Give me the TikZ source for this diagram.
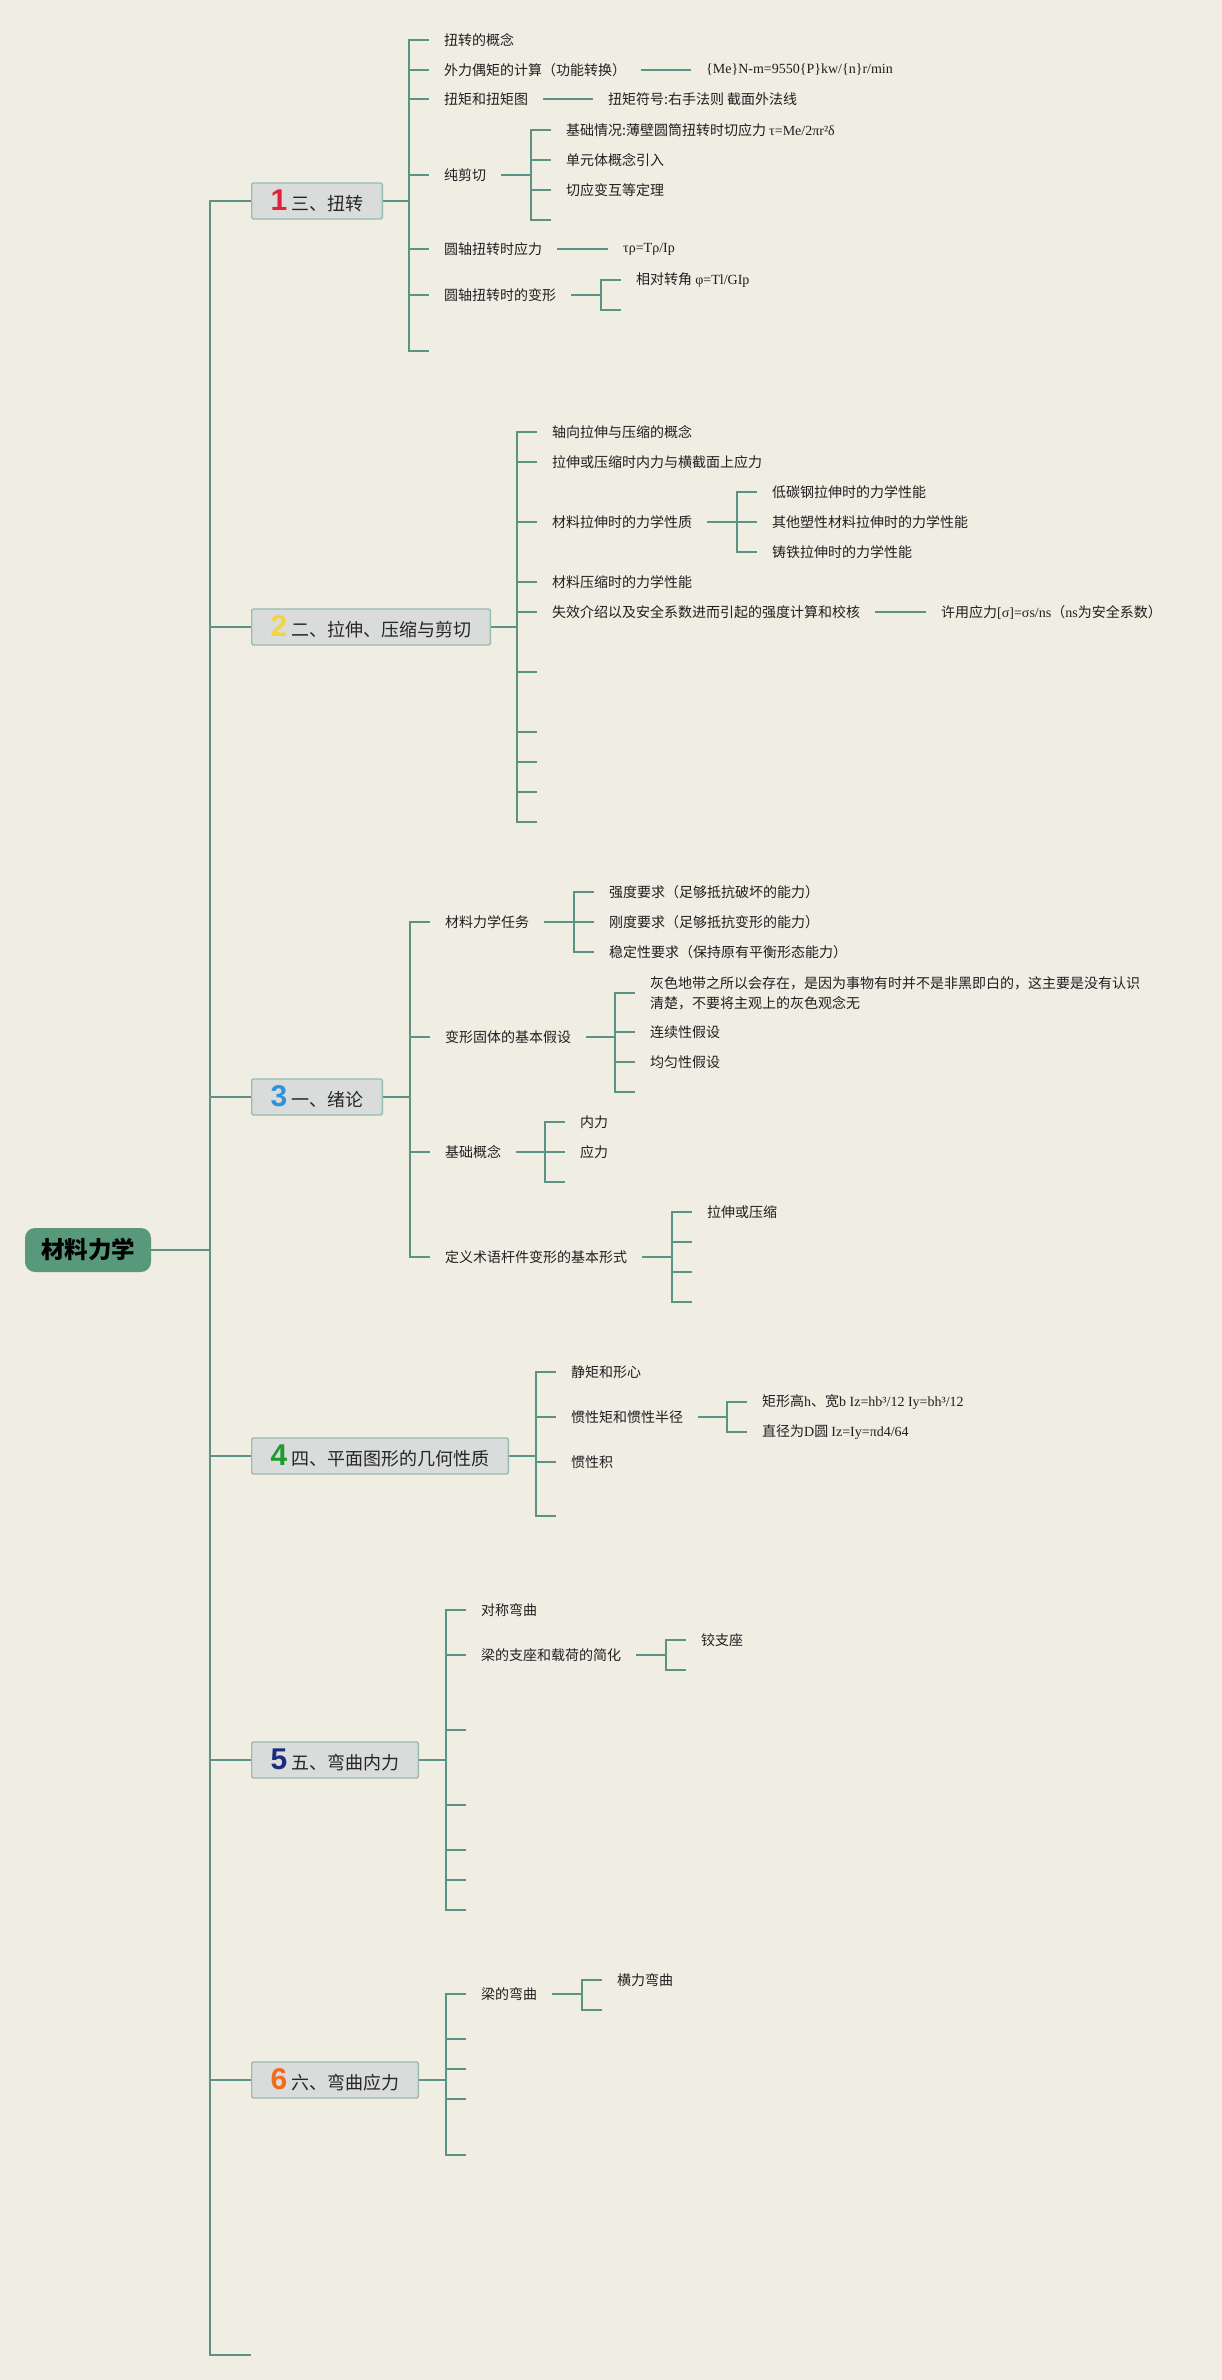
\documentclass[tikz,border=0pt]{standalone}
\usepackage{fontspec}
\setmainfont{Liberation Serif}
\newfontfamily\cjk{Noto Sans CJK SC}
\newfontfamily\numfont{Liberation Sans}
\definecolor{paper}{HTML}{F0EDE3}
\definecolor{twig}{HTML}{5B9484}
\definecolor{rootgreen}{HTML}{57997A}
\definecolor{boxgray}{HTML}{D9DCDB}
\definecolor{boxline}{HTML}{96BDAF}
\definecolor{numa}{HTML}{E3213A}
\definecolor{numb}{HTML}{F4D43A}
\definecolor{numc}{HTML}{2E93DB}
\definecolor{numd}{HTML}{1E9A2F}
\definecolor{nume}{HTML}{1D2B7E}
\definecolor{numf}{HTML}{F26B1D}
\tikzset{
  link/.style={draw=twig, line width=2pt},
  rootbox/.style={fill=rootgreen, rounded corners=10pt, minimum width=126pt,
    minimum height=44pt, font=\cjk\bfseries\fontsize{23.5}{26}\selectfont},
  topic/.style={anchor=west, fill=boxgray, draw=boxline, line width=1.4pt,
    rounded corners=1.5pt, minimum height=36pt, inner xsep=19pt,
    font=\cjk\fontsize{18}{20}\selectfont, text=black!85},
  leaf/.style={anchor=west, inner xsep=15pt, inner ysep=2pt, align=left,
    font=\cjk\fontsize{14}{20}\selectfont, text=black!88},
}
% elbow from a parent to one child, bracket #1 before the child
\newcommand{\branchto}[3][20pt]{\draw[link] (#2.east) -| ([xshift=-#1]#3) -- (#3);}
\newcommand{\fm}[1]{{\rmfamily #1}}
\newcommand{\topicnum}[2]{{\numfont\bfseries\fontsize{30}{30}\selectfont\color{#1}#2}\hspace{4pt}}
\begin{document}
\begin{tikzpicture}[x=1pt, y=-1pt]
  \fill[paper] (0,0) rectangle (1222,2380);
  \node[rootbox] (root) at (88,1250) {材料力学};

  % topics
  \node[topic] (b1) at (251,201) {\topicnum{numa}{1}三、扭转};
  \node[topic] (b2) at (251,627) {\topicnum{numb}{2}二、拉伸、压缩与剪切};
  \node[topic] (b3) at (251,1097) {\topicnum{numc}{3}一、绪论};
  \node[topic] (b4) at (251,1456) {\topicnum{numd}{4}四、平面图形的几何性质};
  \node[topic] (b5) at (251,1760) {\topicnum{nume}{5}五、弯曲内力};
  \node[topic] (b6) at (251,2080) {\topicnum{numf}{6}六、弯曲应力};
  \coordinate (b7) at (251,2355);

  % 三、扭转
  \node[leaf] (n11) at (429,40) {扭转的概念};
  \node[leaf] (n12) at (429,70) {外力偶矩的计算（功能转换）};
  \node[leaf] (n13) at (429,99) {扭矩和扭矩图};
  \node[leaf] (n14) at (429,175) {纯剪切};
  \node[leaf] (n15) at (429,249) {圆轴扭转时应力};
  \node[leaf] (n16) at (429,295) {圆轴扭转时的变形};
  \coordinate (n17) at (429,351);
  \node[leaf] (n121) at (691,70) {\fm{\{Me\}N-m=9550\{P\}kw/\{n\}r/min}};
  \node[leaf] (n131) at (593,99) {扭矩符号:右手法则 截面外法线};
  \node[leaf] (n141) at (551,130) {基础情况:薄壁圆筒扭转时切应力 \fm{τ=Me/2πr²δ}};
  \node[leaf] (n142) at (551,160) {单元体概念引入};
  \node[leaf] (n143) at (551,190) {切应变互等定理};
  \coordinate (n144) at (551,220);
  \node[leaf] (n151) at (608,249) {\fm{τρ=Tρ/Ip}};
  \node[leaf] (n161) at (621,280) {相对转角 \fm{φ=Tl/GIp}};
  \coordinate (n162) at (621,310);

  % 二、拉伸、压缩与剪切
  \node[leaf] (n21) at (537,432) {轴向拉伸与压缩的概念};
  \node[leaf] (n22) at (537,462) {拉伸或压缩时内力与横截面上应力};
  \node[leaf] (n23) at (537,522) {材料拉伸时的力学性质};
  \node[leaf] (n24) at (537,582) {材料压缩时的力学性能};
  \node[leaf] (n25) at (537,612) {失效介绍以及安全系数进而引起的强度计算和校核};
  \coordinate (n26) at (537,672);
  \coordinate (n27) at (537,732);
  \coordinate (n28) at (537,762);
  \coordinate (n29) at (537,792);
  \coordinate (n30) at (537,822);
  \node[leaf] (n231) at (757,492) {低碳钢拉伸时的力学性能};
  \node[leaf] (n232) at (757,522) {其他塑性材料拉伸时的力学性能};
  \node[leaf] (n233) at (757,552) {铸铁拉伸时的力学性能};
  \node[leaf] (n251) at (926,612) {许用应力\fm{[σ]=σs/ns}（\fm{ns}为安全系数）};

  % 一、绪论
  \node[leaf] (n31) at (430,922) {材料力学任务};
  \node[leaf] (n32) at (430,1037) {变形固体的基本假设};
  \node[leaf] (n33) at (430,1152) {基础概念};
  \node[leaf] (n34) at (430,1257) {定义术语杆件变形的基本形式};
  \node[leaf] (n311) at (594,892) {强度要求（足够抵抗破坏的能力）};
  \node[leaf] (n312) at (594,922) {刚度要求（足够抵抗变形的能力）};
  \node[leaf] (n313) at (594,952) {稳定性要求（保持原有平衡形态能力）};
  \node[leaf] (n321) at (635,993) {灰色地带之所以会存在，是因为事物有时并不是非黑即白的，这主要是没有认识\\清楚，不要将主观上的灰色观念无};
  \node[leaf] (n322) at (635,1032) {连续性假设};
  \node[leaf] (n323) at (635,1062) {均匀性假设};
  \coordinate (n324) at (635,1092);
  \node[leaf] (n331) at (565,1122) {内力};
  \node[leaf] (n332) at (565,1152) {应力};
  \coordinate (n333) at (565,1182);
  \node[leaf] (n341) at (692,1212) {拉伸或压缩};
  \coordinate (n342) at (692,1242);
  \coordinate (n343) at (692,1272);
  \coordinate (n344) at (692,1302);

  % 四、平面图形的几何性质
  \node[leaf] (n41) at (556,1372) {静矩和形心};
  \node[leaf] (n42) at (556,1417) {惯性矩和惯性半径};
  \node[leaf] (n43) at (556,1462) {惯性积};
  \coordinate (n44) at (556,1516);
  \node[leaf] (n421) at (747,1402) {矩形高\fm{h}、宽\fm{b Iz=hb³/12 Iy=bh³/12}};
  \node[leaf] (n422) at (747,1432) {直径为\fm{D}圆 \fm{Iz=Iy=πd4/64}};

  % 五、弯曲内力
  \node[leaf] (n51) at (466,1610) {对称弯曲};
  \node[leaf] (n52) at (466,1655) {梁的支座和载荷的简化};
  \coordinate (n53) at (466,1730);
  \coordinate (n54) at (466,1805);
  \coordinate (n55) at (466,1850);
  \coordinate (n56) at (466,1880);
  \coordinate (n57) at (466,1910);
  \node[leaf] (n521) at (686,1640) {铰支座};
  \coordinate (n522) at (686,1670);

  % 六、弯曲应力
  \node[leaf] (n61) at (466,1994) {梁的弯曲};
  \coordinate (n62) at (466,2039);
  \coordinate (n63) at (466,2069);
  \coordinate (n64) at (466,2099);
  \coordinate (n65) at (466,2155);
  \node[leaf] (n611) at (602,1980) {横力弯曲};
  \coordinate (n612) at (602,2010);

  % connectors
  \foreach \t in {b1,b2,b3,b4,b5,b6} {\branchto[41pt]{root}{\t.west}}
  \branchto[41pt]{root}{b7}
  \foreach \c in {n11,n12,n13,n14,n15,n16} {\branchto{b1}{\c.west}}
  \branchto{b1}{n17}
  \draw[link] (n12.east) -- (n121.west);
  \draw[link] (n13.east) -- (n131.west);
  \foreach \c in {n141,n142,n143} {\branchto{n14}{\c.west}}
  \branchto{n14}{n144}
  \draw[link] (n15.east) -- (n151.west);
  \branchto{n16}{n161.west}
  \branchto{n16}{n162}
  \foreach \c in {n21,n22,n23,n24,n25} {\branchto{b2}{\c.west}}
  \foreach \c in {n26,n27,n28,n29,n30} {\branchto{b2}{\c}}
  \foreach \c in {n231,n232,n233} {\branchto{n23}{\c.west}}
  \draw[link] (n25.east) -- (n251.west);
  \foreach \c in {n31,n32,n33,n34} {\branchto{b3}{\c.west}}
  \foreach \c in {n311,n312,n313} {\branchto{n31}{\c.west}}
  \foreach \c in {n321,n322,n323} {\branchto{n32}{\c.west}}
  \branchto{n32}{n324}
  \foreach \c in {n331,n332} {\branchto{n33}{\c.west}}
  \branchto{n33}{n333}
  \branchto{n34}{n341.west}
  \foreach \c in {n342,n343,n344} {\branchto{n34}{\c}}
  \foreach \c in {n41,n42,n43} {\branchto{b4}{\c.west}}
  \branchto{b4}{n44}
  \foreach \c in {n421,n422} {\branchto{n42}{\c.west}}
  \foreach \c in {n51,n52} {\branchto{b5}{\c.west}}
  \foreach \c in {n53,n54,n55,n56,n57} {\branchto{b5}{\c}}
  \branchto{n52}{n521.west}
  \branchto{n52}{n522}
  \branchto{b6}{n61.west}
  \foreach \c in {n62,n63,n64,n65} {\branchto{b6}{\c}}
  \branchto{n61}{n611.west}
  \branchto{n61}{n612}
\end{tikzpicture}
\end{document}
